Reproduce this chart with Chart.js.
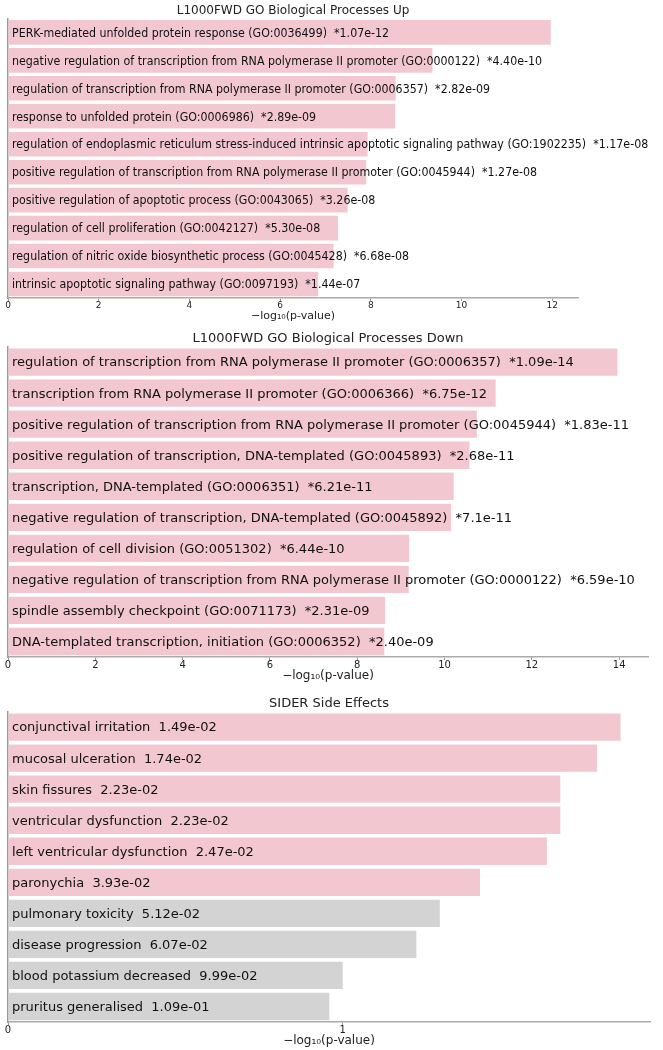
<!DOCTYPE html>
<html>
<head>
<meta charset="utf-8">
<script src="https://cdn.jsdelivr.net/npm/chart.js@4/dist/chart.umd.min.js"></script>
<style>
  html, body { margin: 0; padding: 0; background: #fff; }
  body { width: 663px; height: 1050px; position: relative; overflow: hidden; }
  .panel { position: absolute; left: 0; }
</style>
</head>
<body>
<div class="panel" id="p1" style="top:0px;width:663px;height:326px;"><canvas id="chartUp"></canvas></div>
<div class="panel" id="p2" style="top:327px;width:663px;height:362px;"><canvas id="chartDown"></canvas></div>
<div class="panel" id="p3" style="top:692px;width:663px;height:358px;"><canvas id="chartSider"></canvas></div>
<script>
// GO Biological Processes Up
const upNames = [
  'PERK-mediated unfolded protein response (GO:0036499)',
  'negative regulation of transcription from RNA polymerase II promoter (GO:0000122)',
  'regulation of transcription from RNA polymerase II promoter (GO:0006357)',
  'response to unfolded protein (GO:0006986)',
  'regulation of endoplasmic reticulum stress-induced intrinsic apoptotic signaling pathway (GO:1902235)',
  'positive regulation of transcription from RNA polymerase II promoter (GO:0045944)',
  'positive regulation of apoptotic process (GO:0043065)',
  'regulation of cell proliferation (GO:0042127)',
  'regulation of nitric oxide biosynthetic process (GO:0045428)',
  'intrinsic apoptotic signaling pathway (GO:0097193)',
];
const upPvals = ['*1.07e-12', '*4.40e-10', '*2.82e-09', '*2.89e-09', '*1.17e-08',
  '*1.27e-08', '*3.26e-08', '*5.30e-08', '*6.68e-08', '*1.44e-07'];
const upScores = [11.97, 9.36, 8.55, 8.54, 7.93, 7.90, 7.49, 7.28, 7.18, 6.84];
const upTicks = [0, 2, 4, 6, 8, 10, 12];

// GO Biological Processes Down
const downNames = [
  'regulation of transcription from RNA polymerase II promoter (GO:0006357)',
  'transcription from RNA polymerase II promoter (GO:0006366)',
  'positive regulation of transcription from RNA polymerase II promoter (GO:0045944)',
  'positive regulation of transcription, DNA-templated (GO:0045893)',
  'transcription, DNA-templated (GO:0006351)',
  'negative regulation of transcription, DNA-templated (GO:0045892)',
  'regulation of cell division (GO:0051302)',
  'negative regulation of transcription from RNA polymerase II promoter (GO:0000122)',
  'spindle assembly checkpoint (GO:0071173)',
  'DNA-templated transcription, initiation (GO:0006352)',
];
const downPvals = ['*1.09e-14', '*6.75e-12', '*1.83e-11', '*2.68e-11', '*6.21e-11',
  '*7.1e-11', '*6.44e-10', '*6.59e-10', '*2.31e-09', '*2.40e-09'];
const downScores = [13.96, 11.17, 10.74, 10.57, 10.21, 10.15, 9.19, 9.18, 8.64, 8.62];
const downTicks = [0, 2, 4, 6, 8, 10, 12, 14];

// SIDER side effects
const siderNames = [
  'conjunctival irritation', 'mucosal ulceration', 'skin fissures',
  'ventricular dysfunction', 'left ventricular dysfunction', 'paronychia',
  'pulmonary toxicity', 'disease progression', 'blood potassium decreased',
  'pruritus generalised',
];
const siderPvals = ['1.49e-02', '1.74e-02', '2.23e-02', '2.23e-02', '2.47e-02',
  '3.93e-02', '5.12e-02', '6.07e-02', '9.99e-02', '1.09e-01'];
const siderScores = [1.83, 1.76, 1.65, 1.65, 1.61, 1.41, 1.29, 1.22, 1.00, 0.96];
const siderTicks = [0, 1];

const PINK = '#f2c7d0';
const GREY = '#d3d3d3';
const FONT = "'DejaVu Sans', sans-serif";

// writes "name  p-value" inside each bar, starting at x = 0
const barText = {
  id: 'barText',
  afterDatasetsDraw(chart, args, opts) {
    const ctx = chart.ctx;
    const x0 = chart.scales.x.getPixelForValue(0) + 4;
    const meta = chart.getDatasetMeta(0);
    ctx.save();
    ctx.font = opts.size + 'px ' + FONT;
    ctx.fillStyle = '#111';
    ctx.textBaseline = 'middle';
    meta.data.forEach((bar, i) => {
      ctx.save();
      ctx.translate(x0, bar.y + 1);
      ctx.scale(opts.squeeze, 1);
      ctx.fillText(chart.data.labels[i] + '  ' + opts.pvals[i], 0, 0);
      ctx.restore();
    });
    ctx.restore();
  },
};

const makeChart = (id, title, names, pvals, scores, tickValues, xMax, s) => {
  const colors = pvals.map((p) => (parseFloat(p.replace('*', '')) < 0.05 ? PINK : GREY));
  return new Chart(document.getElementById(id).getContext('2d'), {
    type: 'bar',
    data: {
      labels: names,
      datasets: [{
        data: scores,
        backgroundColor: colors,
        borderWidth: 0,
        barPercentage: 0.88,
        categoryPercentage: 1,
      }],
    },
    options: {
      indexAxis: 'y',
      responsive: true,
      maintainAspectRatio: false,
      animation: false,
      layout: { padding: { left: 8, right: s.right, top: 0, bottom: s.bottom } },
      plugins: {
        legend: { display: false },
        tooltip: { enabled: false },
        title: {
          display: true,
          text: title,
          color: '#222',
          font: { family: FONT, size: s.title, weight: 'normal' },
          padding: { top: 4, bottom: s.titleBottom },
        },
        barText: { pvals, size: s.text, squeeze: s.squeeze },
      },
      scales: {
        x: {
          min: 0,
          max: xMax,
          afterBuildTicks: (scale) => {
            scale.ticks = tickValues.map((v) => ({ value: v }));
          },
          ticks: {
            color: '#222',
            padding: 0,
            maxRotation: 0,
            autoSkip: false,
            font: { family: FONT, size: s.tick, lineHeight: 1 },
          },
          grid: { drawOnChartArea: false, drawTicks: true, tickLength: 3, color: '#999' },
          border: { display: true, color: '#aaa', width: 1.5 },
          title: {
            display: true,
            text: '\u2212log\u2081\u2080(p-value)',
            color: '#222',
            padding: { top: s.labelTop, bottom: 0 },
            font: { family: FONT, size: s.label, lineHeight: 1 },
          },
        },
        y: {
          display: true,
          ticks: { display: false },
          grid: { display: false, drawTicks: false },
          border: { display: true, color: '#999', width: 1.5 },
        },
      },
    },
    plugins: [barText],
  });
};

makeChart('chartUp', 'L1000FWD GO Biological Processes Up', upNames, upPvals, upScores, upTicks, 12.57,
  { right: 85, bottom: 4, title: 12, titleBottom: 0, text: 12.5, squeeze: 0.885, tick: 9, label: 11, labelTop: 1 });
makeChart('chartDown', 'L1000FWD GO Biological Processes Down', downNames, downPvals, downScores, downTicks, 14.66,
  { right: 15, bottom: 7, title: 13, titleBottom: 0, text: 13, squeeze: 1, tick: 10, label: 12, labelTop: 0 });
makeChart('chartSider', 'SIDER Side Effects', siderNames, siderPvals, siderScores, siderTicks, 1.918,
  { right: 13, bottom: 3, title: 13, titleBottom: 0, text: 13, squeeze: 1, tick: 10, label: 12, labelTop: 0 });
</script>
</body>
</html>
